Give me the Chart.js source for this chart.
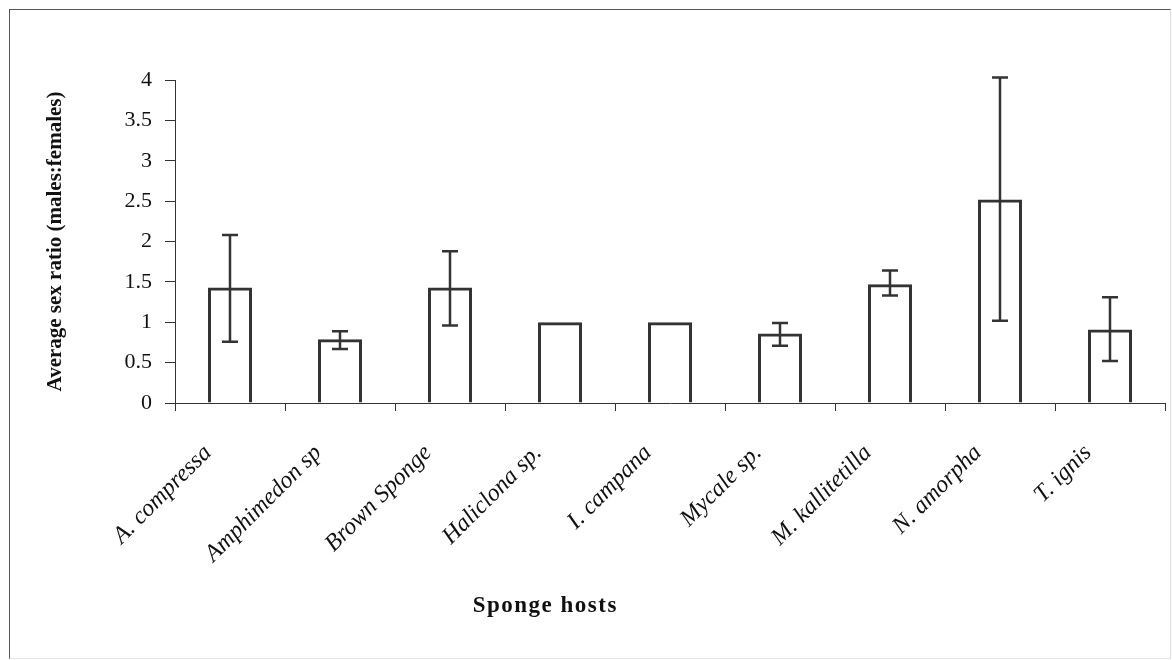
<!DOCTYPE html>
<html lang="en">
<head>
    <meta charset="UTF-8">
    <title>Average sex ratio by sponge host</title>
    <script src="https://cdn.jsdelivr.net/npm/chart.js"></script>
    <style>
        body { margin: 0; background: #fff; }
        #wrap { position: relative; width: 1172px; height: 660px; }
        #frame {
            position: absolute; left: 9px; top: 9px; width: 1160px; height: 648px;
            border-left: 1px solid #555; border-top: 1px solid #555;
            border-right: 1px solid #ddd; border-bottom: 1px solid #e4e4e4;
        }
        canvas { position: absolute; left: 0; top: 0; }
    </style>
</head>
<body>
<div id="wrap">
    <div id="frame"></div>
    <canvas id="myChart" width="1172" height="660"></canvas>
</div>

<script>
    // data
    const hosts = ["A. compressa", "Amphimedon sp", "Brown Sponge", "Haliclona sp.", "I. campana",
                   "Mycale sp.", "M. kallitetilla", "N. amorpha", "T. ignis"];
    const sexRatio = [1.43, 0.79, 1.43, 1.0, 1.0, 0.86, 1.47, 2.52, 0.91];
    const errLow  = [0.76, 0.67, 0.96, null, null, 0.71, 1.33, 1.02, 0.52];
    const errHigh = [2.08, 0.89, 1.88, null, null, 0.99, 1.64, 4.03, 1.31];
    const yTicks = [0, 0.5, 1, 1.5, 2, 2.5, 3, 3.5, 4];

    const ink = "#333";
    const serif = "'Liberation Serif', 'Times New Roman', serif";

    // error bars drawn over the bars
    const errorBars = {
        id: "errorBars",
        afterDatasetsDraw(chart) {
            const ctx = chart.ctx;
            const x = chart.scales.x, y = chart.scales.y;
            ctx.save();
            ctx.strokeStyle = ink;
            ctx.lineWidth = 2.5;
            hosts.forEach((h, i) => {
                if (errLow[i] == null) return;
                const px = x.getPixelForValue(i);
                const top = y.getPixelForValue(errHigh[i]);
                const bot = y.getPixelForValue(errLow[i]);
                ctx.beginPath();
                ctx.moveTo(px, top); ctx.lineTo(px, bot);
                ctx.moveTo(px - 8, top); ctx.lineTo(px + 8, top);
                ctx.moveTo(px - 8, bot); ctx.lineTo(px + 8, bot);
                ctx.stroke();
            });
            ctx.restore();
        }
    };

    // x axis title sits left of centre in the original
    const xTitle = {
        id: "xTitle",
        afterDraw(chart) {
            const ctx = chart.ctx;
            const a = chart.chartArea;
            ctx.save();
            ctx.font = "bold 23px " + serif;
            ctx.letterSpacing = "1.5px";
            ctx.fillStyle = "#111";
            ctx.textAlign = "center";
            ctx.textBaseline = "middle";
            ctx.fillText("Sponge hosts", a.left + (a.right - a.left) * 0.374, 606);
            ctx.restore();
        }
    };

    new Chart(document.getElementById("myChart"), {
        type: "bar",
        data: {
            labels: hosts,
            datasets: [{
                data: sexRatio,
                backgroundColor: "rgba(255,255,255,0)",
                borderColor: ink,
                borderWidth: 3,
                categoryPercentage: 1,
                barPercentage: 0.4
            }]
        },
        options: {
            responsive: false,
            animation: false,
            layout: { padding: { top: 80, right: 7, left: 0, bottom: 0 } },
            plugins: {
                legend: { display: false },
                tooltip: { enabled: false }
            },
            scales: {
                x: {
                    offset: true,
                    grid: { offset: true, drawOnChartArea: false, tickLength: 8, color: ink },
                    border: { color: ink, width: 1 },
                    ticks: {
                        minRotation: 45, maxRotation: 45,
                        padding: 28,
                        labelOffset: -22,
                        color: "#111",
                        font: { family: serif, size: 24, style: "italic" }
                    },
                    afterFit(scale) { scale.height = 257; }
                },
                y: {
                    min: 0, max: 4,
                    afterBuildTicks(scale) { scale.ticks = yTicks.map(v => ({ value: v })); },
                    grid: { drawOnChartArea: false, tickLength: 10, color: ink },
                    border: { color: ink, width: 1 },
                    ticks: {
                        padding: 13,
                        color: "#111",
                        font: { family: serif, size: 22 },
                        callback: v => String(v)
                    },
                    title: {
                        display: true,
                        text: "Average sex ratio (males:females)",
                        color: "#111",
                        font: { family: serif, size: 21, weight: "bold" },
                        padding: { top: 43, bottom: 0 }
                    },
                    afterFit(scale) { scale.width = 175; }
                }
            }
        },
        plugins: [errorBars, xTitle]
    });
</script>
</body>
</html>
